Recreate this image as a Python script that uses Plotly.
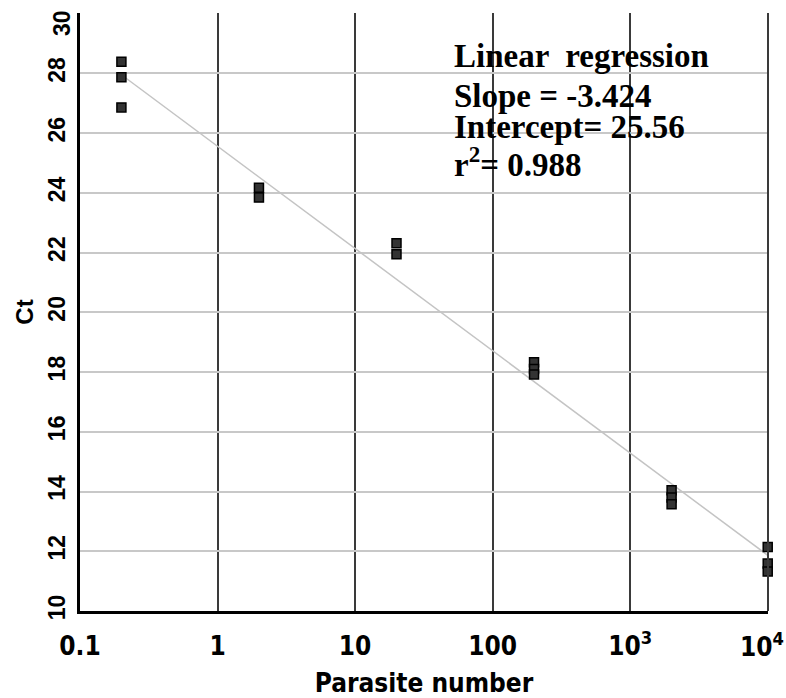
import numpy as np
import plotly.graph_objects as go

# Data: parasite number (log scale) vs Ct values (replicates)
parasites = [0.2, 0.2, 0.2, 2, 2, 20, 20, 200, 200, 200, 2000, 2000, 2000, 10000, 10000, 10000]
ct_values = [28.39, 27.87, 26.86, 24.17, 23.84, 22.31, 21.94, 18.33, 18.1, 17.92,
             14.04, 13.8, 13.57, 12.14, 11.59, 11.32]

# Linear regression reported on the chart
slope = -3.424
intercept = 25.56
r2 = 0.988
fit_x = [0.2, 10000]
fit_y = [intercept + slope * np.log10(v) for v in fit_x]

x_tickvals = [0.1, 1, 10, 100, 1000, 10000]
x_ticktext = ["0.1", "1", "10", "100", "10<sup>3</sup>", ""]
x_last_label = "10<sup>4</sup>"
y_tickvals = [10, 12, 14, 16, 18, 20, 22, 24, 26, 28, 30]
y_ticktext = ["10", "12", "14", "16", "18", "20", "22", "24", "26", "28", ""]
y_top_label = "30"

fig = go.Figure()
fig.add_trace(go.Scatter(x=fit_x, y=fit_y, mode="lines",
                         line=dict(color="#c4c4c4", width=1.5), showlegend=False,
                         hoverinfo="skip"))
fig.add_trace(go.Scatter(x=parasites, y=ct_values, mode="markers",
                         marker=dict(symbol="square", size=9, color="#333333",
                                     line=dict(color="#000000", width=1.5)),
                         showlegend=False, cliponaxis=False))

narrow = "DejaVu Sans Condensed, Liberation Sans Narrow, Arial Narrow, sans-serif"
xfont = dict(family=narrow, size=26, color="black", weight="bold")
yfont = dict(family="Liberation Sans, Arial", size=23, color="black", weight="bold")

fig.update_layout(
    width=786, height=698,
    margin=dict(l=80, r=18, t=13, b=87, autoexpand=False),
    paper_bgcolor="white", plot_bgcolor="white",
    xaxis=dict(type="log", range=[-1, 4.002], tickvals=x_tickvals, ticktext=x_ticktext,
               automargin=False,
               showgrid=True, gridcolor="#3a3a3a", gridwidth=1.5,
               showline=True, linecolor="black", linewidth=3,
               ticks="", ticklabelstandoff=10, ticklabeloverflow="allow",
               tickfont=xfont,
               title=dict(text="<b>Parasite number</b>", standoff=15,
                          font=dict(family=narrow, size=26, color="black")),
               zeroline=False),
    yaxis=dict(range=[10, 30.02], tickvals=y_tickvals, ticktext=y_ticktext, tickangle=-90,
               automargin=False,
               showgrid=True, gridcolor="#c8c8c8", gridwidth=2,
               showline=True, linecolor="black", linewidth=3,
               ticks="", ticklabelstandoff=3, ticklabeloverflow="allow",
               tickfont=yfont,
               title=dict(text="<b>Ct</b>", standoff=4,
                          font=dict(family="Liberation Sans, Arial", size=24, color="black")),
               zeroline=False),
)

# Edge tick labels, nudged to stay inside the page as in the reference
fig.add_annotation(x=0, y=1, xref="paper", yref="paper", xanchor="right", yanchor="top",
                   xshift=-3, yshift=5, showarrow=False, textangle=-90,
                   text="<b>" + y_top_label + "</b>", font=yfont)
fig.add_annotation(x=1, y=0, xref="paper", yref="paper", xanchor="right", yanchor="middle",
                   xshift=18, yshift=-34, showarrow=False,
                   text=x_last_label, font=xfont)

# Right border
fig.add_shape(type="line", xref="paper", yref="paper", x0=1, x1=1, y0=0, y1=1,
              line=dict(color="#3a3a3a", width=2))

lines = ["Linear  regression", "Slope = -3.424", "Intercept= 25.56", "r<sup>2</sup>= 0.988"]
ys = [56, 96, 127, 162]
for txt, py in zip(lines, ys):
    fig.add_annotation(x=(452 - 80) / 688, y=(611 - py) / 598, xref="paper", yref="paper",
                       xanchor="left", yanchor="middle", showarrow=False,
                       text="<b>" + txt + "</b>",
                       font=dict(family="Liberation Serif, Times New Roman", size=33, color="black"))

fig.write_html("out.html", config={"displayModeBar": False},
               post_script="document.body.style.margin='0px';document.body.style.overflow='hidden';")
